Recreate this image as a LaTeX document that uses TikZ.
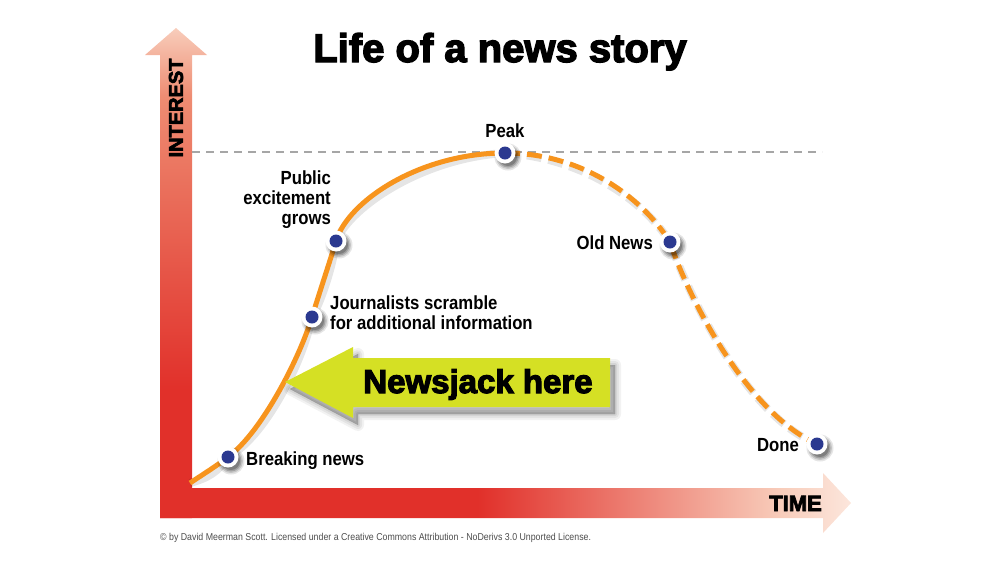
\documentclass[tikz,border=0pt]{standalone}
\usepackage{fontspec}
\setmainfont{Liberation Sans}
\newfontfamily\labelfont[FakeStretch=0.88]{Liberation Sans Bold}
\newfontfamily\heavyfont[FakeBold=3.5]{Liberation Sans Bold}
\newfontfamily\smallfont[FakeStretch=0.88]{Liberation Sans}
\usetikzlibrary{calc}
\definecolor{axred}{HTML}{E1302A}
\definecolor{axmid}{HTML}{EE8C72}
\definecolor{axpale}{HTML}{F8CDBB}
\definecolor{axpaler}{HTML}{FCE6DC}
\definecolor{curveor}{HTML}{F7941D}
\definecolor{dotblue}{HTML}{2B3990}
\definecolor{jackgreen}{HTML}{D5E024}
\definecolor{guidegray}{HTML}{A6A6A6}
\pgfdeclareverticalshading{intshade}{100bp}{color(0bp)=(axred); color(25bp)=(axred); color(38bp)=(axred); color(68bp)=(axmid); color(75bp)=(axpale); color(100bp)=(axpale)}
\pgfdeclarehorizontalshading{timeshade}{100bp}{color(0bp)=(axred); color(25bp)=(axred); color(48bp)=(axred); color(70bp)=(axpale); color(75bp)=(axpaler); color(100bp)=(axpaler)}
\tikzset{
  label text/.style={font=\labelfont\fontsize{19}{20}\selectfont, inner sep=0pt, text=black},
  heavy text/.style={font=\heavyfont, inner sep=0pt, text=black},
  curve line/.style={draw=curveor, line width=5pt},
  curve shadow/.style={draw=black, opacity=0.10, line width=8pt},
  story dot/.style={circle, minimum size=21pt, inner sep=0pt, fill=white},
  dot core/.style={circle, minimum size=13pt, inner sep=0pt, fill=dotblue},
  soft shade/.style={fill=black, opacity=#1},
}
\begin{document}
\begin{tikzpicture}[x=1pt,y=-1pt]
\useasboundingbox (0,0) rectangle (1000,560);
% axes
\shade[shading=intshade] (160,518) -- (160,55) -- (145,55) -- (176,28) -- (207,55) -- (192,55) -- (192,518) -- cycle;
\shade[shading=timeshade] (160,488) -- (823,488) -- (823,473) -- (851,503) -- (823,533) -- (823,518) -- (160,518) -- cycle;
\node[heavy text, font=\heavyfont\fontsize{20}{20}\selectfont, rotate=90] (interest) at (176,108) {INTEREST};
\node[heavy text, font=\heavyfont\fontsize{22}{22}\selectfont, anchor=base east] (time) at (822,511) {TIME};
% title
\node[heavy text, font=\heavyfont\fontsize{40}{40}\selectfont, anchor=base] (title) at (500,62) {Life of a news story};
% guide line
\coordinate (gl) at (192,152);
\coordinate (gr) at (822,152);
\draw[guidegray, line width=1.6pt, dash pattern=on 8pt off 6pt] (gl) -- (gr);
% dot positions
\coordinate (pstart) at (190,483);
\coordinate (pbn) at (228,457);
\coordinate (pjo) at (312,317);
\coordinate (ppu) at (336,241);
\coordinate (ppk) at (505,153);
\coordinate (pold) at (670,242);
\coordinate (pdone) at (817,444);
% curve shadow
\begin{scope}[shift={(3,5)}]
\draw[curve shadow] (pstart) .. controls (205,473) and (215,467) .. (pbn)
  .. controls (262,432) and (300,357) .. (pjo)
  .. controls (318,297) and (330,261) .. (ppu)
  .. controls (348,201) and (420,153) .. (ppk);
\draw[curve shadow, dash pattern=on 15pt off 7pt] (ppk) .. controls (581,153) and (641,196) .. (pold)
  .. controls (686,292) and (745,412) .. (pdone);
\end{scope}
% curve
\draw[curve line] (pstart) .. controls (205,473) and (215,467) .. (pbn)
  .. controls (262,432) and (300,357) .. (pjo)
  .. controls (318,297) and (330,261) .. (ppu)
  .. controls (348,201) and (420,153) .. (ppk);
\draw[curve line, dash pattern=on 15pt off 7pt] (ppk) .. controls (581,153) and (641,196) .. (pold)
  .. controls (686,292) and (745,412) .. (pdone);
% green arrow with soft shadow
\coordinate (tip) at (285,382);
\begin{scope}[shift={(5,7)}]
\foreach \w/\o in {12/0.05, 8/0.06, 4/0.07, 0.5/0.08}{
  \filldraw[soft shade=\o, draw=black, line width=\w pt, line join=round]
    (285,382) -- (353,347) -- (353,358) -- (610,358) -- (610,407) -- (353,407) -- (353,418) -- cycle;
}
\end{scope}
\fill[jackgreen] (tip) -- (353,347) -- (353,358) -- (610,358) -- (610,407) -- (353,407) -- (353,418) -- cycle;
\node[heavy text, font=\heavyfont\fontsize{33}{33}\selectfont, anchor=base] (jack) at (478,393) {Newsjack here};
% dots with soft shadows
\foreach \p/\n in {pbn/bn,pjo/jo,ppu/pu,ppk/pk,pold/old,pdone/done}{
  \foreach \r/\o in {13.5/0.10, 12/0.14, 10.5/0.18, 9/0.22}{
    \fill[black, opacity=\o] ($(\p)+(3,4)$) circle[radius=\r];
  }
  \node[story dot] (\n) at (\p) {};
  \node[dot core] at (\n.center) {};
}
% labels
\node[label text, anchor=base] (lpk) at (505,137) {Peak};
\node[label text, anchor=north east, align=right] (lpu) at (331,171) {Public\\excitement\\grows};
\node[label text, anchor=north west, align=left] (ljo) at (330,296) {Journalists scramble\\for additional information};
\node[label text, anchor=base west] (lbn) at (246,465) {Breaking news};
\node[label text, anchor=base east] (lold) at (653,249) {Old News};
\node[label text, anchor=base east] (ldone) at (799,451) {Done};
% copyright
\node[font=\smallfont\fontsize{10}{10}\selectfont, text=black!70, anchor=base west, inner sep=0pt] (copy) at (160,540) {\textcopyright{} by David Meerman Scott. Licensed under a Creative Commons Attribution - NoDerivs 3.0 Unported License.};
\end{tikzpicture}
\end{document}
